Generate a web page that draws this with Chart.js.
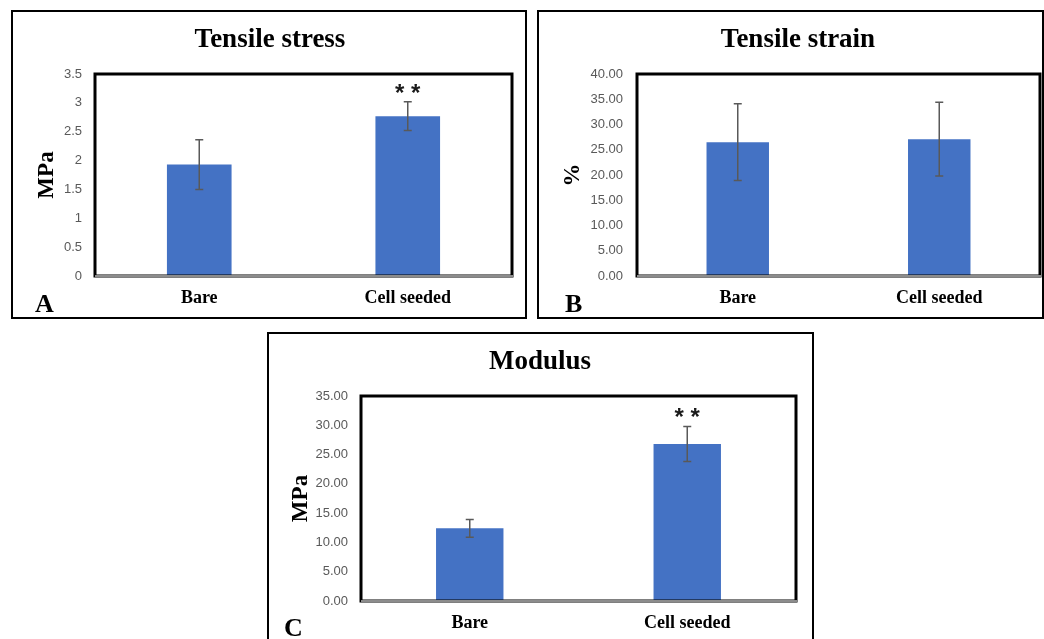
<!DOCTYPE html>
<html>
<head>
<meta charset="utf-8">
<script src="https://cdn.jsdelivr.net/npm/chart.js@4"></script>
<style>
  body { margin: 0; background: #fff; width: 1044px; height: 639px; overflow: hidden; position: relative; }
  .panel { position: absolute; border: 2px solid #000; box-sizing: border-box; }
  .panel canvas { position: absolute; left: 0; top: 0; }
  .title { position: absolute; font: bold 27px "Liberation Serif", serif; line-height: 1; white-space: nowrap; transform: translateX(-50%); }
  .letter { position: absolute; font: bold 26px "Liberation Serif", serif; line-height: 1; }
</style>
</head>
<body>
<div class="panel" style="left:11px;top:10px;width:516px;height:309px"><canvas id="stress" width="512" height="305"></canvas></div>
<div class="panel" style="left:537px;top:10px;width:507px;height:309px"><canvas id="strain" width="503" height="305"></canvas></div>
<div class="panel" style="left:267px;top:332px;width:547px;height:330px"><canvas id="modulus" width="543" height="308"></canvas></div>

<div class="title" style="left:270px;top:25px">Tensile stress</div>
<div class="title" style="left:798px;top:25px">Tensile strain</div>
<div class="title" style="left:540px;top:347px">Modulus</div>
<div class="letter" style="left:35px;top:291px">A</div>
<div class="letter" style="left:565px;top:291px">B</div>
<div class="letter" style="left:284px;top:615px">C</div>

<script>
const categories = ['Bare', 'Cell seeded'];

const stressValues = [1.93, 2.77];
const stressErrors = [0.43, 0.25];
const stressMarks = ['', '* *'];

const strainValues = [26.5, 27.1];
const strainErrors = [7.6, 7.3];
const strainMarks = ['', ''];

const modulusValues = [12.4, 26.8];
const modulusErrors = [1.5, 3.0];
const modulusMarks = ['', '* *'];

// y axis ranges / tick labels
const stressTicks = { max: 3.5, step: 0.5, decimals: null };
const strainTicks = { max: 40, step: 5, decimals: 2 };
const modulusTicks = { max: 35, step: 5, decimals: 2 };

const BAR_COLOR = '#4472C4';

// box round the plot area, grey zero line, error bars and stars
const extras = {
  id: 'extras',
  afterDatasetsDraw(chart) {
    const {ctx, chartArea: a, scales: {y}} = chart;
    const ex = chart.options.plugins.extras;
    ctx.save();
    ctx.strokeStyle = '#000';
    ctx.lineWidth = 3;
    ctx.strokeRect(a.left, a.top, a.right - a.left, a.bottom - a.top);
    ctx.strokeStyle = '#8c8c8c';
    ctx.lineWidth = 2;
    ctx.beginPath();
    ctx.moveTo(a.left, a.bottom);
    ctx.lineTo(a.right + 1, a.bottom);
    ctx.stroke();

    const meta = chart.getDatasetMeta(0);
    const values = chart.data.datasets[0].data;
    ctx.strokeStyle = '#595959';
    ctx.lineWidth = 1.5;
    meta.data.forEach((bar, i) => {
      const top = y.getPixelForValue(values[i] + ex.errors[i]);
      const bot = y.getPixelForValue(values[i] - ex.errors[i]);
      ctx.beginPath();
      ctx.moveTo(bar.x, top); ctx.lineTo(bar.x, bot);
      ctx.moveTo(bar.x - 4, top); ctx.lineTo(bar.x + 4, top);
      ctx.moveTo(bar.x - 4, bot); ctx.lineTo(bar.x + 4, bot);
      ctx.stroke();
      if (ex.marks[i]) {
        ctx.fillStyle = '#1a1a1a';
        ctx.font = 'bold 24px "Liberation Sans", sans-serif';
        ctx.textAlign = 'center';
        ctx.textBaseline = 'alphabetic';
        ctx.fillText(ex.marks[i], bar.x, top - 1);
      }
    });
    ctx.restore();
  }
};

function drawPanel(id, values, errors, marks, ticks, yTitle, cfg) {
  new Chart(document.getElementById(id), {
    type: 'bar',
    data: {
      labels: categories,
      datasets: [{
        data: values,
        backgroundColor: BAR_COLOR,
        barPercentage: 0.31,
        categoryPercentage: 1
      }]
    },
    options: {
      responsive: false,
      animation: false,
      layout: { padding: { top: 62, right: cfg.padRight, left: 0, bottom: 0 } },
      plugins: {
        legend: { display: false },
        tooltip: { enabled: false },
        extras: { errors: errors, marks: marks }
      },
      scales: {
        x: {
          grid: { display: false, drawTicks: false },
          border: { display: false },
          ticks: { color: '#000', padding: 12, font: { family: '"Liberation Serif", serif', size: 18, weight: 'bold' } },
          afterFit: s => { s.height = 41; }
        },
        y: {
          min: 0,
          max: ticks.max,
          grid: { display: false, drawTicks: false },
          border: { display: false },
          ticks: {
            stepSize: ticks.step,
            color: '#595959',
            padding: cfg.tickPad,
            font: cfg.tickFont,
            callback: v => ticks.decimals === null ? String(v) : v.toFixed(ticks.decimals)
          },
          title: {
            display: true,
            text: yTitle,
            color: '#000',
            padding: { top: cfg.titlePad, bottom: 0 },
            font: { family: '"Liberation Serif", serif', size: 23, weight: 'bold', lineHeight: 1.2 }
          },
          afterFit: s => { s.width = cfg.yWidth; }
        }
      }
    },
    plugins: [extras]
  });
}

const tickFont = { family: '"Liberation Sans", Arial, sans-serif', size: 13 };

drawPanel('stress', stressValues, stressErrors, stressMarks, stressTicks, 'MPa',
  { padRight: 13, yWidth: 82, tickPad: 13, titlePad: 20, tickFont: tickFont });
drawPanel('strain', strainValues, strainErrors, strainMarks, strainTicks, '%',
  { padRight: 2, yWidth: 98, tickPad: 14, titlePad: 20, tickFont: tickFont });
drawPanel('modulus', modulusValues, modulusErrors, modulusMarks, modulusTicks, 'MPa',
  { padRight: 16, yWidth: 92, tickPad: 13, titlePad: 18, tickFont: tickFont });
</script>
</body>
</html>
